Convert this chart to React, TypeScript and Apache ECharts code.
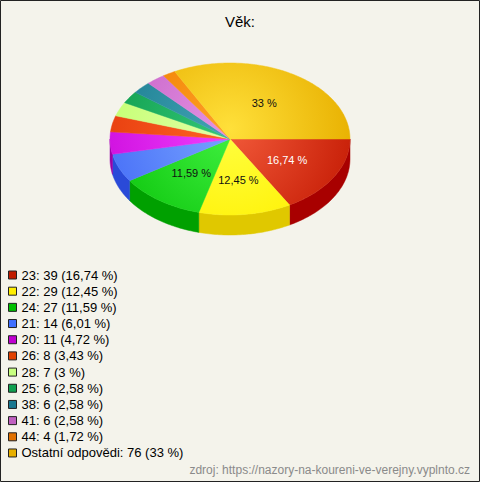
import React, { useEffect, useRef } from "react";
import * as echarts from "echarts";

const TITLE = "Věk:";
const SOURCE = "zdroj: https://nazory-na-koureni-ve-verejny.vyplnto.cz";
const CATEGORIES = ["23", "22", "24", "21", "20", "26", "28", "25", "38", "41", "44", "Ostatní odpovědi"];
const VALUES = [39, 29, 27, 14, 11, 8, 7, 6, 6, 6, 4, 76];
const PERCENT_LABELS = ["16,74", "12,45", "11,59", "6,01", "4,72", "3,43", "3", "2,58", "2,58", "2,58", "1,72", "33"];
const SHOW_IN_PIE = [true, true, true, false, false, false, false, false, false, false, false, true];
const LABEL_COLORS = ["#ffffff", "#111111", "#111111", "#111111", "#111111", "#111111", "#111111", "#111111", "#111111", "#111111", "#111111", "#111111"];
const LEGEND_COLORS = ["#c01c00", "#ffee00", "#00c000", "#4070ff", "#c000d0", "#e04000", "#c8ff80", "#10a050", "#1a7890", "#c060c0", "#e07000", "#e8b000"];
const TOP_LIGHT = ["#f25a3a", "#ffff40", "#40f040", "#78a4ff", "#f040ff", "#ff6424", "#e4ffa8", "#34c878", "#44a4b4", "#e494e4", "#ffa028", "#ffe03a"];
const TOP_BASE = ["#c82008", "#fff000", "#10c810", "#4a72f8", "#d012e0", "#e84010", "#c4ff74", "#12a050", "#1e8094", "#c864c8", "#f08000", "#e8b000"];
const SIDE = ["#a80000", "#e0c800", "#00a000", "#2a4ad8", "#9a00a8", "#b82800", "#a0d060", "#0a8040", "#146070", "#a04ca0", "#c06000", "#c09000"];

const CX = 230;
const CY = 139;
const RX = 120;
const RY = 76;
const DEPTH = 20;
const LABEL_FRAC = 0.55;
const FONT = "'Liberation Sans', Arial, sans-serif";

const TOTAL = VALUES.reduce((a, b) => a + b, 0);
const STARTS: number[] = [];
const ENDS: number[] = [];
{
  let acc = 0;
  VALUES.forEach((v) => {
    STARTS.push((acc / TOTAL) * Math.PI * 2);
    acc += v;
    ENDS.push((acc / TOTAL) * Math.PI * 2);
  });
}

function arc(a0: number, a1: number, dy: number): number[][] {
  const pts: number[][] = [];
  const n = Math.max(2, Math.ceil(((a1 - a0) * 180) / Math.PI));
  for (let k = 0; k <= n; k++) {
    const t = a0 + ((a1 - a0) * k) / n;
    pts.push([CX + RX * Math.cos(t), CY + RY * Math.sin(t) + dy]);
  }
  return pts;
}

export default function App() {
  const ref = useRef<HTMLDivElement>(null);
  useEffect(() => {
    if (!ref.current) return;
    const chart = echarts.init(ref.current, undefined, { renderer: "svg" });
    const option: any = {
      animation: false,
      backgroundColor: "#f4f3eb",
      graphic: [
        {
          type: "rect",
          shape: { x: 0.5, y: 0.5, width: 479, height: 481 },
          style: { fill: "none", stroke: "#222", lineWidth: 1 },
          silent: true,
        },
        {
          type: "text",
          x: 240,
          y: 21,
          style: { text: TITLE, textAlign: "center", textVerticalAlign: "middle", fill: "#000", fontSize: 15, fontFamily: FONT },
        },
        {
          type: "text",
          x: 470,
          y: 470,
          style: { text: SOURCE, textAlign: "right", textVerticalAlign: "middle", fill: "#8a8a8a", fontSize: 12, fontFamily: FONT },
        },
      ],
      legend: {
        orient: "vertical",
        left: 8,
        top: 267,
        padding: 0,
        itemWidth: 8,
        itemHeight: 8,
        itemGap: 0.18,
        icon: "rect",
        selectedMode: false,
        data: CATEGORIES,
        itemStyle: { borderColor: "#222", borderWidth: 1 },
        textStyle: { fontFamily: FONT, fontSize: 13, color: "#000", lineHeight: 16 },
        formatter: (name: string) => {
          const i = CATEGORIES.indexOf(name);
          return `${name}: ${VALUES[i]} (${PERCENT_LABELS[i]} %)`;
        },
      },
      series: [
        {
          type: "pie",
          center: [-500, -500],
          radius: 10,
          silent: true,
          label: { show: false },
          labelLine: { show: false },
          data: CATEGORIES.map((c, i) => ({ name: c, value: VALUES[i], itemStyle: { color: LEGEND_COLORS[i] } })),
        },
        {
          type: "custom",
          coordinateSystem: "none",
          silent: true,
          data: VALUES.map((v) => [v]),
          renderItem: (params: any) => {
            const i = params.dataIndex;
            const a0 = STARTS[i];
            const a1 = ENDS[i];
            const children: any[] = [];
            const s = Math.max(a0, 0);
            const e = Math.min(a1, Math.PI);
            if (e > s) {
              const topArc = arc(s, e, 0);
              const botArc = arc(s, e, DEPTH).reverse();
              children.push({
                type: "polygon",
                shape: { points: topArc.concat(botArc) },
                style: { fill: SIDE[i], stroke: SIDE[i], lineWidth: 0.5 },
              });
            }
            const grad = new echarts.graphic.RadialGradient(
              CX,
              CY - 10,
              RX * 1.05,
              [
                { offset: 0, color: TOP_LIGHT[i] },
                { offset: 1, color: TOP_BASE[i] },
              ],
              true
            );
            children.push({
              type: "polygon",
              shape: { points: [[CX, CY]].concat(arc(a0, a1, 0)) },
              style: { fill: grad, stroke: grad, lineWidth: 0.5 },
            });
            if (SHOW_IN_PIE[i]) {
              const m = (a0 + a1) / 2;
              children.push({
                type: "text",
                x: CX + RX * LABEL_FRAC * Math.cos(m),
                y: CY + RY * LABEL_FRAC * Math.sin(m),
                z2: 100,
                style: {
                  text: `${PERCENT_LABELS[i]} %`,
                  textAlign: "center",
                  textVerticalAlign: "middle",
                  fill: LABEL_COLORS[i],
                  fontSize: 11,
                  fontFamily: FONT,
                },
              });
            }
            return { type: "group", children };
          },
        },
      ],
    };
    chart.setOption(option);
    return () => chart.dispose();
  }, []);
  return <div ref={ref} style={{ position: "absolute", left: 0, top: 0, width: 480, height: 482 }} />;
}
